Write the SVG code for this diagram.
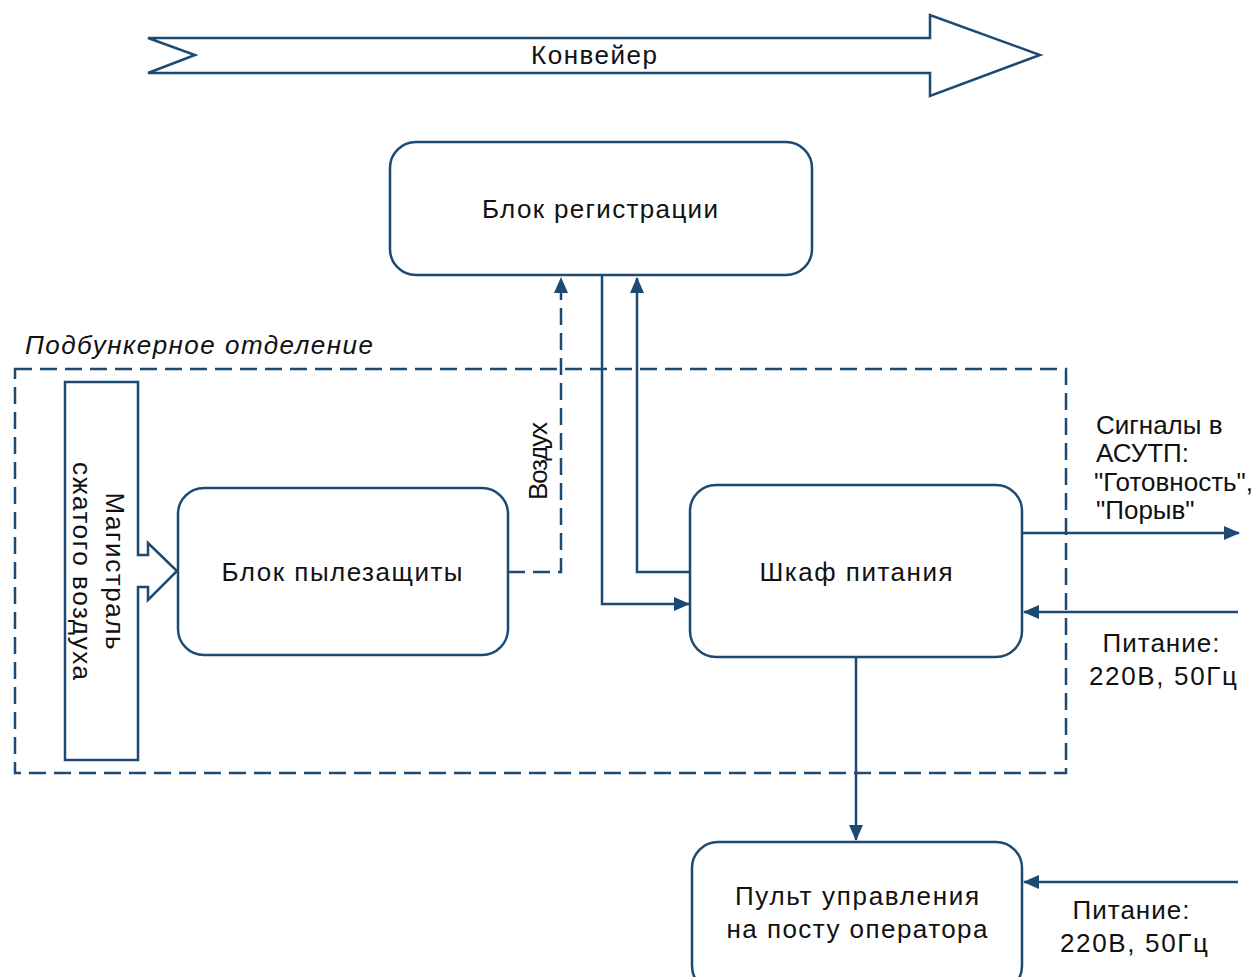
<svg xmlns="http://www.w3.org/2000/svg" width="1252" height="977" viewBox="0 0 1252 977">
<style>
.s{fill:#fff;stroke:#1d4a73;stroke-width:2.5}
.ln{fill:none;stroke:#1d4a73;stroke-width:2.5}
.d{fill:none;stroke:#1d4a73;stroke-width:2.5;stroke-dasharray:17 8}
.t{font-family:"Liberation Sans",Arial,sans-serif;font-size:26px;fill:#111}
.m{text-anchor:middle}
</style>
<defs>
<marker id="ah" markerWidth="16" markerHeight="14" refX="15" refY="7" orient="auto" markerUnits="userSpaceOnUse">
<path d="M0,0 L16,7 L0,14 Z" fill="#1d4a73"/>
</marker>
</defs>
<rect width="1252" height="977" fill="#fff"/>

<g id="conveyor">
<polygon class="s" points="148,38 930,38 930,15 1040,55 930,96 930,73 148,73 195,55"/>
<text class="t m" x="594" y="64" font-size="25" textLength="126" lengthAdjust="spacing">Конвейер</text>
</g>

<g id="zone">
<rect x="15" y="369" width="1051" height="404" class="d" stroke-dasharray="12 8"/>
<text class="t" x="25" y="354" font-size="25" font-style="italic" textLength="348" lengthAdjust="spacing">Подбункерное отделение</text>
</g>

<g id="reg">
<rect class="s" x="390" y="142" width="422" height="133" rx="26"/>
<text class="t m" x="600" y="218" textLength="236" lengthAdjust="spacing">Блок регистрации</text>
</g>

<g id="pipe">
<polygon class="s" points="65,382 138,382 138,555 148,555 148,543 177,571 148,600 148,587 138,587 138,760 65,760"/>
<text class="t m" transform="translate(115,571) rotate(90)" y="9" textLength="157" lengthAdjust="spacing">Магистраль</text>
<text class="t m" transform="translate(82,571) rotate(90)" y="9" textLength="218" lengthAdjust="spacing">сжатого воздуха</text>
</g>

<g id="dust">
<rect class="s" x="178" y="488" width="330" height="167" rx="26"/>
<text class="t m" x="342" y="581" textLength="241" lengthAdjust="spacing">Блок пылезащиты</text>
</g>

<g id="power">
<rect class="s" x="690" y="485" width="332" height="172" rx="26"/>
<text class="t m" x="856" y="581" textLength="193" lengthAdjust="spacing">Шкаф питания</text>
</g>

<g id="panel">
<rect class="s" x="692" y="842" width="330" height="150" rx="26"/>
<text class="t m" x="857" y="905" textLength="244" lengthAdjust="spacing">Пульт управления</text>
<text class="t m" x="857" y="938" textLength="261" lengthAdjust="spacing">на посту оператора</text>
</g>

<g id="connectors">
<polyline class="d" points="508,572 561,572 561,278" marker-end="url(#ah)"/>
<polyline class="ln" points="602,275 602,604 689,604" marker-end="url(#ah)"/>
<polyline class="ln" points="690,572 637,572 637,278" marker-end="url(#ah)"/>
<line class="ln" x1="1022" y1="533" x2="1239" y2="533" marker-end="url(#ah)"/>
<line class="ln" x1="1238" y1="612" x2="1024" y2="612" marker-end="url(#ah)"/>
<line class="ln" x1="856" y1="657" x2="856" y2="840" marker-end="url(#ah)"/>
<line class="ln" x1="1238" y1="882" x2="1024" y2="882" marker-end="url(#ah)"/>
</g>

<g id="labels">
<text class="t m" transform="translate(540,461) rotate(-90)" y="7" font-size="19" textLength="78" lengthAdjust="spacing">Воздух</text>
<text class="t" x="1096" y="434" font-size="19">Сигналы в</text>
<text class="t" x="1096" y="462" font-size="19">АСУТП:</text>
<text class="t" x="1094" y="491" font-size="18">"Готовность",</text>
<text class="t" x="1096" y="519" font-size="19">"Порыв"</text>
<text class="t m" x="1161" y="652" textLength="117" lengthAdjust="spacing">Питание:</text>
<text class="t m" x="1163" y="685" textLength="148" lengthAdjust="spacing">220В, 50Гц</text>
<text class="t m" x="1131" y="919" textLength="117" lengthAdjust="spacing">Питание:</text>
<text class="t m" x="1134" y="952" textLength="148" lengthAdjust="spacing">220В, 50Гц</text>
</g>
</svg>
